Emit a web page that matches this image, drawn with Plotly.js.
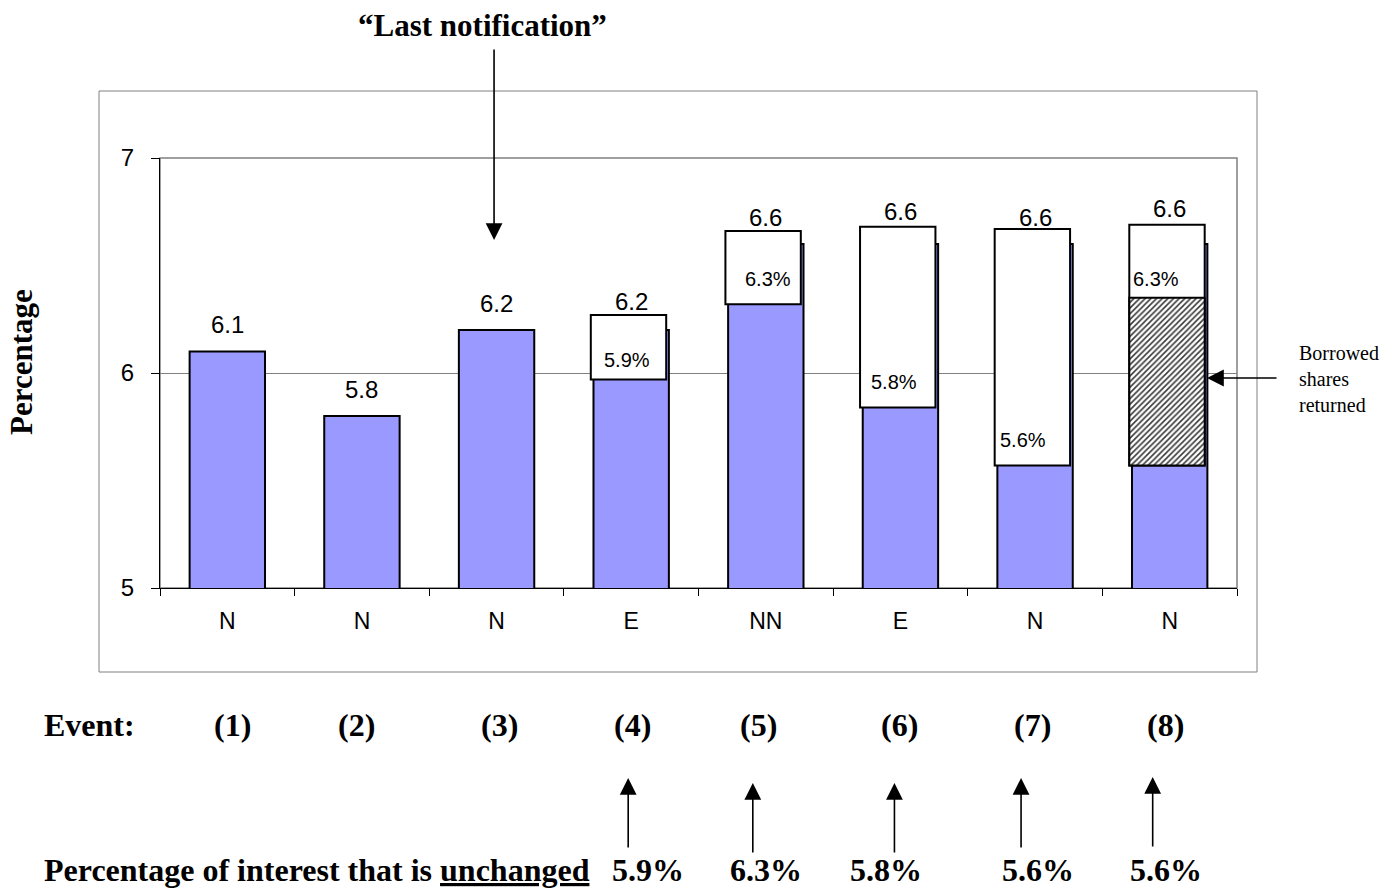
<!DOCTYPE html>
<html>
<head>
<meta charset="utf-8">
<script src="https://cdn.plot.ly/plotly-3.0.1.min.js"></script>
<style>
  html, body { margin: 0; padding: 0; background: #fff; }
  #chart { width: 1396px; height: 888px; }
</style>
</head>
<body>
<div id="chart"></div>
<script>
// ---- data ----
const events = ['(1)', '(2)', '(3)', '(4)', '(5)', '(6)', '(7)', '(8)'];
const eventTypes = ['N', 'N', 'N', 'E', 'NN', 'E', 'N', 'N'];
const totals = [6.1, 5.8, 6.2, 6.2, 6.6, 6.6, 6.6, 6.6];
const boxBase = [null, null, null, 5.97, 6.32, 5.84, 5.57, 5.57];
const boxTop = [null, null, null, 6.27, 6.66, 6.68, 6.67, 6.69];
const hatchTop = [null, null, null, null, null, null, null, 6.35];
const innerLabels = [null, null, null, '5.9%', '6.3%', '5.8%', '5.6%', '6.3%'];
const unchangedPct = [null, null, null, 5.9, 6.3, 5.8, 5.6, 5.6];
const yTicks = [5, 6, 7];

// ---- layout geometry ----
const L = 160, R = 1237, T = 158, B = 588;
const PW = R - L, PH = B - T;
const px = x => (x - L) / PW;
const py = y => (B - y) / PH;

const SANS = 'Liberation Sans, Arial, sans-serif';
const SERIF = 'Liberation Serif, Times New Roman, serif';

const boxLen = boxTop.map((t, i) => (t == null ? null : t - boxBase[i]));
const hatchLen = hatchTop.map((t, i) => (t == null ? null : t - boxBase[i]));

const traces = [
  {
    type: 'bar', x: events, y: totals, width: 0.56,
    marker: { color: '#9999FF', line: { color: '#000', width: 2 } },
    hoverinfo: 'skip'
  },
  {
    type: 'bar', x: events, y: boxLen, base: boxBase, width: 0.56, offset: -0.3,
    marker: { color: '#FFFFFF', line: { color: '#000', width: 2 } },
    hoverinfo: 'skip'
  },
  {
    type: 'bar', x: events, y: hatchLen, base: boxBase, width: 0.56, offset: -0.3,
    marker: {
      color: '#FFFFFF', line: { color: '#000', width: 2 },
      pattern: { shape: '/', fgcolor: '#3a3a3a', bgcolor: '#FFFFFF', size: 4, solidity: 0.4 }
    },
    hoverinfo: 'skip'
  }
];

const annotations = [];
const base = { xanchor: 'center', yanchor: 'middle', showarrow: false };

// value labels above bars / boxes
const topShift = [27, 27, 27, 13, 14, 15, 11, 16];
totals.forEach((v, i) => {
  const hasBox = boxTop[i] != null;
  annotations.push(Object.assign({}, base, {
    x: events[i], y: hasBox ? boxTop[i] : v, xref: 'x', yref: 'y',
    text: v.toFixed(1), yshift: topShift[i],
    font: { family: SANS, size: 24, color: '#000' }
  }));
});

// labels inside the white boxes
const innerShift = [0, 0, 0, -4, 2, -31, -37, -39];
const innerAnchor = ['center', 'center', 'center', 'center', 'center', 'left', 'left', 'left'];
innerLabels.forEach((t, i) => {
  if (!t) return;
  const ref = hatchTop[i] != null ? hatchTop[i] : boxBase[i];
  annotations.push(Object.assign({}, base, {
    x: events[i], y: ref, xref: 'x', yref: 'y',
    text: t, xanchor: innerAnchor[i],
    xshift: innerShift[i], yshift: hatchTop[i] != null ? 19 : (i === 3 ? 19 : 25),
    font: { family: SANS, size: 20, color: '#000' }
  }));
});

// y-axis title
annotations.push(Object.assign({}, base, {
  x: px(21), y: py(362), xref: 'paper', yref: 'paper',
  text: '<b>Percentage</b>', textangle: -90,
  font: { family: SERIF, size: 31, color: '#000' }
}));

// "Last notification"
annotations.push(Object.assign({}, base, {
  x: px(482), y: py(25), xref: 'paper', yref: 'paper',
  text: '<b>\u201CLast notification\u201D</b>',
  font: { family: SERIF, size: 31, color: '#000' }
}));
annotations.push({
  x: events[2], y: py(240), xref: 'x', yref: 'paper', xshift: -2.5,
  text: '', showarrow: true, axref: 'pixel', ayref: 'pixel', ax: 0, ay: -192,
  arrowhead: 2, arrowsize: 2.1, arrowwidth: 1.6, arrowcolor: '#000'
});

// Borrowed shares returned
annotations.push(Object.assign({}, base, {
  x: px(1297), y: py(379), xref: 'paper', yref: 'paper',
  xanchor: 'left', align: 'left',
  text: 'Borrowed<br>shares<br>returned',
  font: { family: SERIF, size: 20, color: '#000' }
}));
annotations.push({
  x: px(1207), y: py(378), xref: 'paper', yref: 'paper',
  text: '', showarrow: true, axref: 'pixel', ayref: 'pixel', ax: 71, ay: 0,
  arrowhead: 2, arrowsize: 2.1, arrowwidth: 1.6, arrowcolor: '#000'
});

// Event row
annotations.push(Object.assign({}, base, {
  x: px(42), y: py(725), xref: 'paper', yref: 'paper',
  xanchor: 'left', text: '<b>Event:</b>',
  font: { family: SERIF, size: 32, color: '#000' }
}));
const eventShift = [5, -5, 3, 1, -7, -1, -3, -4];
events.forEach((e, i) => {
  annotations.push(Object.assign({}, base, {
    x: e, y: py(725), xref: 'x', yref: 'paper',
    xshift: eventShift[i], text: '<b>' + e + '</b>',
    font: { family: SERIF, size: 32, color: '#000' }
  }));
});

// Percentage of interest that is unchanged row
annotations.push(Object.assign({}, base, {
  x: px(42), y: py(870), xref: 'paper', yref: 'paper',
  xanchor: 'left', text: '<b>Percentage of interest that is <u>unchanged</u></b>',
  font: { family: SERIF, size: 32, color: '#000' }
}));
const arrowShift = [0, 0, 0, -3, -13, -6, -14, -17];
const arrowTip = [0, 0, 0, 778, 783, 783, 778, 777];
const pctShift = [0, 0, 0, 17, 0, -14, 3, -4];
unchangedPct.forEach((v, i) => {
  if (v == null) return;
  annotations.push({
    x: events[i], y: py(arrowTip[i]), xref: 'x', yref: 'paper', xshift: arrowShift[i],
    text: '', showarrow: true, axref: 'pixel', ayref: 'pixel', ax: 0, ay: 71,
    arrowhead: 2, arrowsize: 2.1, arrowwidth: 1.6, arrowcolor: '#000'
  });
  annotations.push(Object.assign({}, base, {
    x: events[i], y: py(870), xref: 'x', yref: 'paper',
    xshift: pctShift[i], text: '<b>' + v.toFixed(1) + '%</b>',
    font: { family: SERIF, size: 32, color: '#000' }
  }));
});

const layout = {
  width: 1396, height: 888,
  margin: { l: L, r: 1396 - R, t: T, b: 888 - B, pad: 0 },
  paper_bgcolor: '#fff', plot_bgcolor: '#fff',
  barmode: 'overlay', showlegend: false,
  xaxis: {
    type: 'category', tickmode: 'array', tickvals: events, ticktext: eventTypes,
    tickson: 'boundaries', ticks: 'outside', ticklen: 7, tickcolor: '#000', tickwidth: 1,
    showline: true, linecolor: '#000', linewidth: 1, showgrid: false, zeroline: false,
    ticklabelstandoff: 12,
    tickfont: { family: SANS, size: 23, color: '#000' }, fixedrange: true
  },
  yaxis: {
    range: [5, 7], tickmode: 'array', tickvals: yTicks, ticktext: yTicks.map(String),
    ticks: 'outside', ticklen: 8, tickcolor: '#000', tickwidth: 1,
    showline: true, linecolor: '#000', linewidth: 1,
    showgrid: true, gridcolor: '#808080', gridwidth: 1, zeroline: false,
    ticklabelstandoff: 12,
    tickfont: { family: SANS, size: 24, color: '#000' }, fixedrange: true
  },
  shapes: [
    { type: 'rect', xref: 'paper', yref: 'paper', x0: 0, x1: 1, y0: 0, y1: 1,
      line: { color: '#808080', width: 1.5 }, layer: 'below' },
    { type: 'rect', xref: 'paper', yref: 'paper', x0: px(99), x1: px(1257), y0: py(672), y1: py(91),
      line: { color: '#808080', width: 1 }, layer: 'below' }
  ],
  annotations: annotations
};

Plotly.newPlot('chart', traces, layout, { staticPlot: true, displayModeBar: false });
</script>
</body>
</html>
